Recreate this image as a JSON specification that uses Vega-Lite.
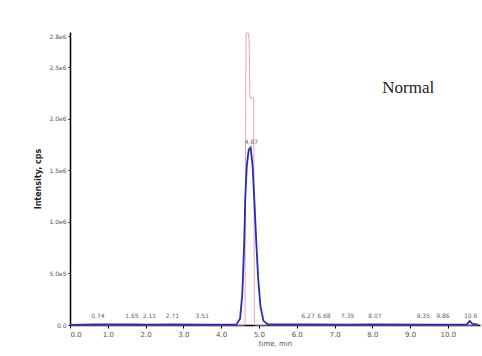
{
  "$schema": "https://vega.github.io/schema/vega-lite/v6.json",
  "width": 410,
  "height": 293,
  "autosize": {"type": "none"},
  "padding": {"left": 70, "top": 32, "right": 2, "bottom": 31},
  "background": "white",
  "config": {"view": {"stroke": null}},
  "datasets": {
    "trace": [
      {"series": "TIC", "t": 0.0, "v": 0},
      {"series": "TIC", "t": 4.63, "v": 0},
      {"series": "TIC", "t": 4.65, "v": 2200000},
      {"series": "TIC", "t": 4.66, "v": 2830000},
      {"series": "TIC", "t": 4.72, "v": 2830000},
      {"series": "TIC", "t": 4.74, "v": 2750000},
      {"series": "TIC", "t": 4.76, "v": 2200000},
      {"series": "TIC", "t": 4.86, "v": 2200000},
      {"series": "TIC", "t": 4.88, "v": 0},
      {"series": "TIC", "t": 10.8, "v": 0},
      {"series": "XIC", "t": 0.0, "v": 2000},
      {"series": "XIC", "t": 0.74, "v": 6000},
      {"series": "XIC", "t": 1.64, "v": 5000},
      {"series": "XIC", "t": 2.1, "v": 4000},
      {"series": "XIC", "t": 2.71, "v": 5000},
      {"series": "XIC", "t": 3.5, "v": 3000},
      {"series": "XIC", "t": 4.4, "v": 3000},
      {"series": "XIC", "t": 4.5, "v": 60000},
      {"series": "XIC", "t": 4.56, "v": 300000},
      {"series": "XIC", "t": 4.61, "v": 800000},
      {"series": "XIC", "t": 4.64, "v": 1250000},
      {"series": "XIC", "t": 4.68, "v": 1550000},
      {"series": "XIC", "t": 4.73, "v": 1700000},
      {"series": "XIC", "t": 4.78, "v": 1720000},
      {"series": "XIC", "t": 4.83, "v": 1550000},
      {"series": "XIC", "t": 4.88, "v": 1200000},
      {"series": "XIC", "t": 4.93, "v": 800000},
      {"series": "XIC", "t": 4.98, "v": 450000},
      {"series": "XIC", "t": 5.04, "v": 180000},
      {"series": "XIC", "t": 5.12, "v": 40000},
      {"series": "XIC", "t": 5.24, "v": 5000},
      {"series": "XIC", "t": 6.3, "v": 5000},
      {"series": "XIC", "t": 7.35, "v": 4000},
      {"series": "XIC", "t": 8.07, "v": 5000},
      {"series": "XIC", "t": 9.35, "v": 4000},
      {"series": "XIC", "t": 10.5, "v": 5000},
      {"series": "XIC", "t": 10.58, "v": 40000},
      {"series": "XIC", "t": 10.65, "v": 10000},
      {"series": "XIC", "t": 10.8, "v": 3000}
    ],
    "labels": [
      {"t": 0.74, "v": 60000, "label": "0.74"},
      {"t": 1.64, "v": 60000, "label": "1.65"},
      {"t": 2.1, "v": 60000, "label": "2.11"},
      {"t": 2.71, "v": 60000, "label": "2.71"},
      {"t": 3.5, "v": 60000, "label": "3.51"},
      {"t": 6.3, "v": 60000, "label": "6.27"},
      {"t": 6.72, "v": 60000, "label": "6.68"},
      {"t": 7.35, "v": 60000, "label": "7.35"},
      {"t": 8.07, "v": 60000, "label": "8.07"},
      {"t": 9.35, "v": 60000, "label": "9.35"},
      {"t": 9.87, "v": 60000, "label": "9.86"},
      {"t": 10.6, "v": 60000, "label": "10.6"},
      {"t": 4.8, "v": 1740000, "label": "4.67"}
    ],
    "title": [
      {"t": 8.95, "v": 2300000, "label": "Normal"}
    ]
  },
  "layer": [
    {
      "data": {"name": "trace"},
      "mark": {"type": "line", "interpolate": "linear"},
      "encoding": {
        "x": {
          "field": "t", "type": "quantitative",
          "scale": {"domain": [0, 10.85], "nice": false, "zero": false},
          "axis": {
            "title": "time, min", "titleFontSize": 7, "titleFont": "DejaVu Sans", "titleColor": "#555",
            "titleFontWeight": "normal", "titlePadding": 2,
            "values": [0, 1, 2, 3, 4, 5, 6, 7, 8, 9, 10],
            "format": ".1f", "labelFontSize": 7, "labelColor": "#555", "labelFont": "DejaVu Sans",
            "grid": false, "domainColor": "black", "domainWidth": 1.5,
            "tickColor": "black", "tickSize": 3, "labelPadding": 2
          }
        },
        "y": {
          "field": "v", "type": "quantitative",
          "scale": {"domain": [0, 2840000], "nice": false},
          "axis": {
            "title": "Intensity, cps", "titleFontSize": 8, "titleFont": "DejaVu Sans", "titleColor": "#222",
            "titlePadding": 6,
            "values": [0, 500000, 1000000, 1500000, 2000000, 2500000, 2800000],
            "labelExpr": "datum.value == 0 ? '0.0' : replace(format(datum.value, '.1e'), '+', '')",
            "labelFontSize": 6, "labelColor": "#555", "labelFont": "DejaVu Sans",
            "grid": false, "domainColor": "black", "domainWidth": 1.5,
            "tickColor": "black", "tickSize": 2, "labelPadding": 2
          }
        },
        "color": {
          "field": "series", "type": "nominal",
          "scale": {"domain": ["TIC", "XIC"], "range": ["#e8a0c8", "#2a2ab4"]},
          "legend": null
        },
        "strokeWidth": {
          "field": "series", "type": "nominal",
          "scale": {"domain": ["TIC", "XIC"], "range": [1, 1.8]},
          "legend": null
        },
        "order": {"field": "t", "type": "quantitative"}
      }
    },
    {
      "data": {"name": "labels"},
      "mark": {"type": "text", "fontSize": 6, "color": "#666", "baseline": "bottom", "font": "DejaVu Sans"},
      "encoding": {
        "x": {"field": "t", "type": "quantitative"},
        "y": {"field": "v", "type": "quantitative"},
        "text": {"field": "label"}
      }
    },
    {
      "data": {"name": "title"},
      "mark": {"type": "text", "fontSize": 17, "color": "#222", "font": "Liberation Serif"},
      "encoding": {
        "x": {"field": "t", "type": "quantitative"},
        "y": {"field": "v", "type": "quantitative"},
        "text": {"field": "label"}
      }
    }
  ]
}
